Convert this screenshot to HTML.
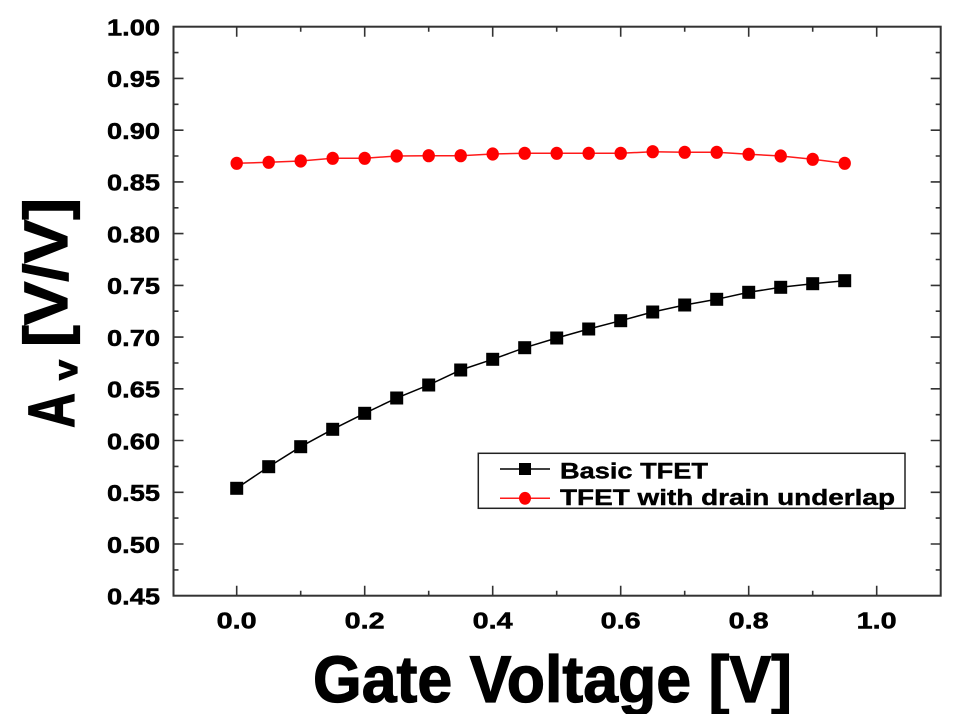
<!DOCTYPE html>
<html><head><meta charset="utf-8"><style>
html,body{margin:0;padding:0;background:#fff;}
svg{display:block;}
text{font-family:"Liberation Sans",Arial,sans-serif;font-weight:bold;fill:#000;}
</style></head><body>
<svg width="972" height="714" viewBox="0 0 972 714" xmlns="http://www.w3.org/2000/svg">
<rect x="0" y="0" width="972" height="714" fill="#fff"/>
<!-- ticks -->
<g stroke="#333" stroke-width="1.6">
<path d="M236.7 595.7v-10M364.7 595.7v-10M492.7 595.7v-10M620.7 595.7v-10M748.7 595.7v-10M876.7 595.7v-10"/>
<path d="M300.7 595.7v-5M428.7 595.7v-5M556.7 595.7v-5M684.7 595.7v-5M812.7 595.7v-5"/>
<path d="M236.7 26.7v10M364.7 26.7v10M492.7 26.7v10M620.7 26.7v10M748.7 26.7v10M876.7 26.7v10"/>
<path d="M300.7 26.7v5M428.7 26.7v5M556.7 26.7v5M684.7 26.7v5M812.7 26.7v5"/>
<path d="M173.5 78.4h10M173.5 130.2h10M173.5 181.9h10M173.5 233.6h10M173.5 285.4h10M173.5 337.1h10M173.5 388.8h10M173.5 440.5h10M173.5 492.3h10M173.5 544h10"/>
<path d="M173.5 52.6h5M173.5 104.3h5M173.5 156h5M173.5 207.8h5M173.5 259.5h5M173.5 311.2h5M173.5 363h5M173.5 414.7h5M173.5 466.4h5M173.5 518.1h5M173.5 569.9h5"/>
<path d="M940.7 78.4h-10M940.7 130.2h-10M940.7 181.9h-10M940.7 233.6h-10M940.7 285.4h-10M940.7 337.1h-10M940.7 388.8h-10M940.7 440.5h-10M940.7 492.3h-10M940.7 544h-10"/>
<path d="M940.7 52.6h-5M940.7 104.3h-5M940.7 156h-5M940.7 207.8h-5M940.7 259.5h-5M940.7 311.2h-5M940.7 363h-5M940.7 414.7h-5M940.7 466.4h-5M940.7 518.1h-5M940.7 569.9h-5"/>
</g>
<rect x="173.5" y="26.7" width="767.2" height="569" fill="none" stroke="#333" stroke-width="2"/>

<!-- y tick labels -->
<g font-size="23" text-anchor="end" stroke="#000" stroke-width="0.5">
<text x="160" y="35.5" textLength="53" lengthAdjust="spacingAndGlyphs">1.00</text>
<text x="160" y="87.2" textLength="53" lengthAdjust="spacingAndGlyphs">0.95</text>
<text x="160" y="139" textLength="53" lengthAdjust="spacingAndGlyphs">0.90</text>
<text x="160" y="190.7" textLength="53" lengthAdjust="spacingAndGlyphs">0.85</text>
<text x="160" y="242.4" textLength="53" lengthAdjust="spacingAndGlyphs">0.80</text>
<text x="160" y="294.2" textLength="53" lengthAdjust="spacingAndGlyphs">0.75</text>
<text x="160" y="345.9" textLength="53" lengthAdjust="spacingAndGlyphs">0.70</text>
<text x="160" y="397.6" textLength="53" lengthAdjust="spacingAndGlyphs">0.65</text>
<text x="160" y="449.3" textLength="53" lengthAdjust="spacingAndGlyphs">0.60</text>
<text x="160" y="501.1" textLength="53" lengthAdjust="spacingAndGlyphs">0.55</text>
<text x="160" y="552.8" textLength="53" lengthAdjust="spacingAndGlyphs">0.50</text>
<text x="160" y="604.5" textLength="53" lengthAdjust="spacingAndGlyphs">0.45</text>
</g>
<!-- x tick labels -->
<g font-size="23" stroke="#000" stroke-width="0.5">
<text x="216.7" y="628.3" textLength="40" lengthAdjust="spacingAndGlyphs">0.0</text>
<text x="344.7" y="628.3" textLength="40" lengthAdjust="spacingAndGlyphs">0.2</text>
<text x="472.7" y="628.3" textLength="40" lengthAdjust="spacingAndGlyphs">0.4</text>
<text x="600.7" y="628.3" textLength="40" lengthAdjust="spacingAndGlyphs">0.6</text>
<text x="728.7" y="628.3" textLength="40" lengthAdjust="spacingAndGlyphs">0.8</text>
<text x="856.7" y="628.3" textLength="40" lengthAdjust="spacingAndGlyphs">1.0</text>
</g>

<!-- axis titles -->
<g stroke="#000" stroke-width="1.2">
<text x="313" y="702" font-size="66" textLength="479" lengthAdjust="spacingAndGlyphs">Gate Voltage [V]</text>
<text transform="translate(74,428) rotate(-90)" font-size="66" textLength="35" lengthAdjust="spacingAndGlyphs">A</text>
<text transform="translate(77,380) rotate(-90)" font-size="33" textLength="20" lengthAdjust="spacingAndGlyphs">v</text>
<text transform="translate(67,347) rotate(-90)" font-size="61" textLength="149" lengthAdjust="spacingAndGlyphs">[V/V]</text>
</g>

<!-- black series -->
<polyline fill="none" stroke="#000" stroke-width="1.5" points="236.7,488.3 268.7,466.7 300.7,446.7 332.7,429.3 364.7,413.3 396.7,398 428.7,385 460.7,370 492.7,359.3 524.7,347.7 556.7,338 588.7,329 620.7,320.7 652.7,312 684.7,305 716.7,299.3 748.7,292.3 780.7,287.3 812.7,283.7 844.7,280.7"/>
<g fill="#000">
<rect x="230.2" y="481.8" width="13" height="13"/>
<rect x="262.2" y="460.2" width="13" height="13"/>
<rect x="294.2" y="440.2" width="13" height="13"/>
<rect x="326.2" y="422.8" width="13" height="13"/>
<rect x="358.2" y="406.8" width="13" height="13"/>
<rect x="390.2" y="391.5" width="13" height="13"/>
<rect x="422.2" y="378.5" width="13" height="13"/>
<rect x="454.2" y="363.5" width="13" height="13"/>
<rect x="486.2" y="352.8" width="13" height="13"/>
<rect x="518.2" y="341.2" width="13" height="13"/>
<rect x="550.2" y="331.5" width="13" height="13"/>
<rect x="582.2" y="322.5" width="13" height="13"/>
<rect x="614.2" y="314.2" width="13" height="13"/>
<rect x="646.2" y="305.5" width="13" height="13"/>
<rect x="678.2" y="298.5" width="13" height="13"/>
<rect x="710.2" y="292.8" width="13" height="13"/>
<rect x="742.2" y="285.8" width="13" height="13"/>
<rect x="774.2" y="280.8" width="13" height="13"/>
<rect x="806.2" y="277.2" width="13" height="13"/>
<rect x="838.2" y="274.2" width="13" height="13"/>
</g>

<!-- red series -->
<polyline fill="none" stroke="#ff1a1a" stroke-width="1.5" points="236.7,163.3 268.7,162.3 300.7,161 332.7,158.3 364.7,158.3 396.7,156 428.7,155.7 460.7,155.7 492.7,154 524.7,153.3 556.7,153.3 588.7,153.3 620.7,153.3 652.7,151.7 684.7,152.3 716.7,152.3 748.7,154.3 780.7,156 812.7,159.3 844.7,163.3"/>
<g fill="#ff0000">
<ellipse cx="236.7" cy="163.3" rx="6.2" ry="6.6"/>
<ellipse cx="268.7" cy="162.3" rx="6.2" ry="6.6"/>
<ellipse cx="300.7" cy="161" rx="6.2" ry="6.6"/>
<ellipse cx="332.7" cy="158.3" rx="6.2" ry="6.6"/>
<ellipse cx="364.7" cy="158.3" rx="6.2" ry="6.6"/>
<ellipse cx="396.7" cy="156" rx="6.2" ry="6.6"/>
<ellipse cx="428.7" cy="155.7" rx="6.2" ry="6.6"/>
<ellipse cx="460.7" cy="155.7" rx="6.2" ry="6.6"/>
<ellipse cx="492.7" cy="154" rx="6.2" ry="6.6"/>
<ellipse cx="524.7" cy="153.3" rx="6.2" ry="6.6"/>
<ellipse cx="556.7" cy="153.3" rx="6.2" ry="6.6"/>
<ellipse cx="588.7" cy="153.3" rx="6.2" ry="6.6"/>
<ellipse cx="620.7" cy="153.3" rx="6.2" ry="6.6"/>
<ellipse cx="652.7" cy="151.7" rx="6.2" ry="6.6"/>
<ellipse cx="684.7" cy="152.3" rx="6.2" ry="6.6"/>
<ellipse cx="716.7" cy="152.3" rx="6.2" ry="6.6"/>
<ellipse cx="748.7" cy="154.3" rx="6.2" ry="6.6"/>
<ellipse cx="780.7" cy="156" rx="6.2" ry="6.6"/>
<ellipse cx="812.7" cy="159.3" rx="6.2" ry="6.6"/>
<ellipse cx="844.7" cy="163.3" rx="6.2" ry="6.6"/>
</g>

<!-- legend -->
<rect x="478.3" y="453.3" width="426.7" height="55" fill="#fff" stroke="#222" stroke-width="1.5"/>
<line x1="500" y1="469" x2="550" y2="469" stroke="#000" stroke-width="1.5"/>
<rect x="519" y="463" width="12" height="12" fill="#000"/>
<line x1="500" y1="498.3" x2="550" y2="498.3" stroke="#ff1a1a" stroke-width="1.5"/>
<ellipse cx="525" cy="498.3" rx="6" ry="6.4" fill="#ff0000"/>
<g stroke="#000" stroke-width="0.4">
<text x="560" y="478.3" font-size="22" textLength="148" lengthAdjust="spacingAndGlyphs">Basic TFET</text>
<text x="560" y="505" font-size="22" textLength="335" lengthAdjust="spacingAndGlyphs">TFET with drain underlap</text>
</g>
</svg>
</body></html>
